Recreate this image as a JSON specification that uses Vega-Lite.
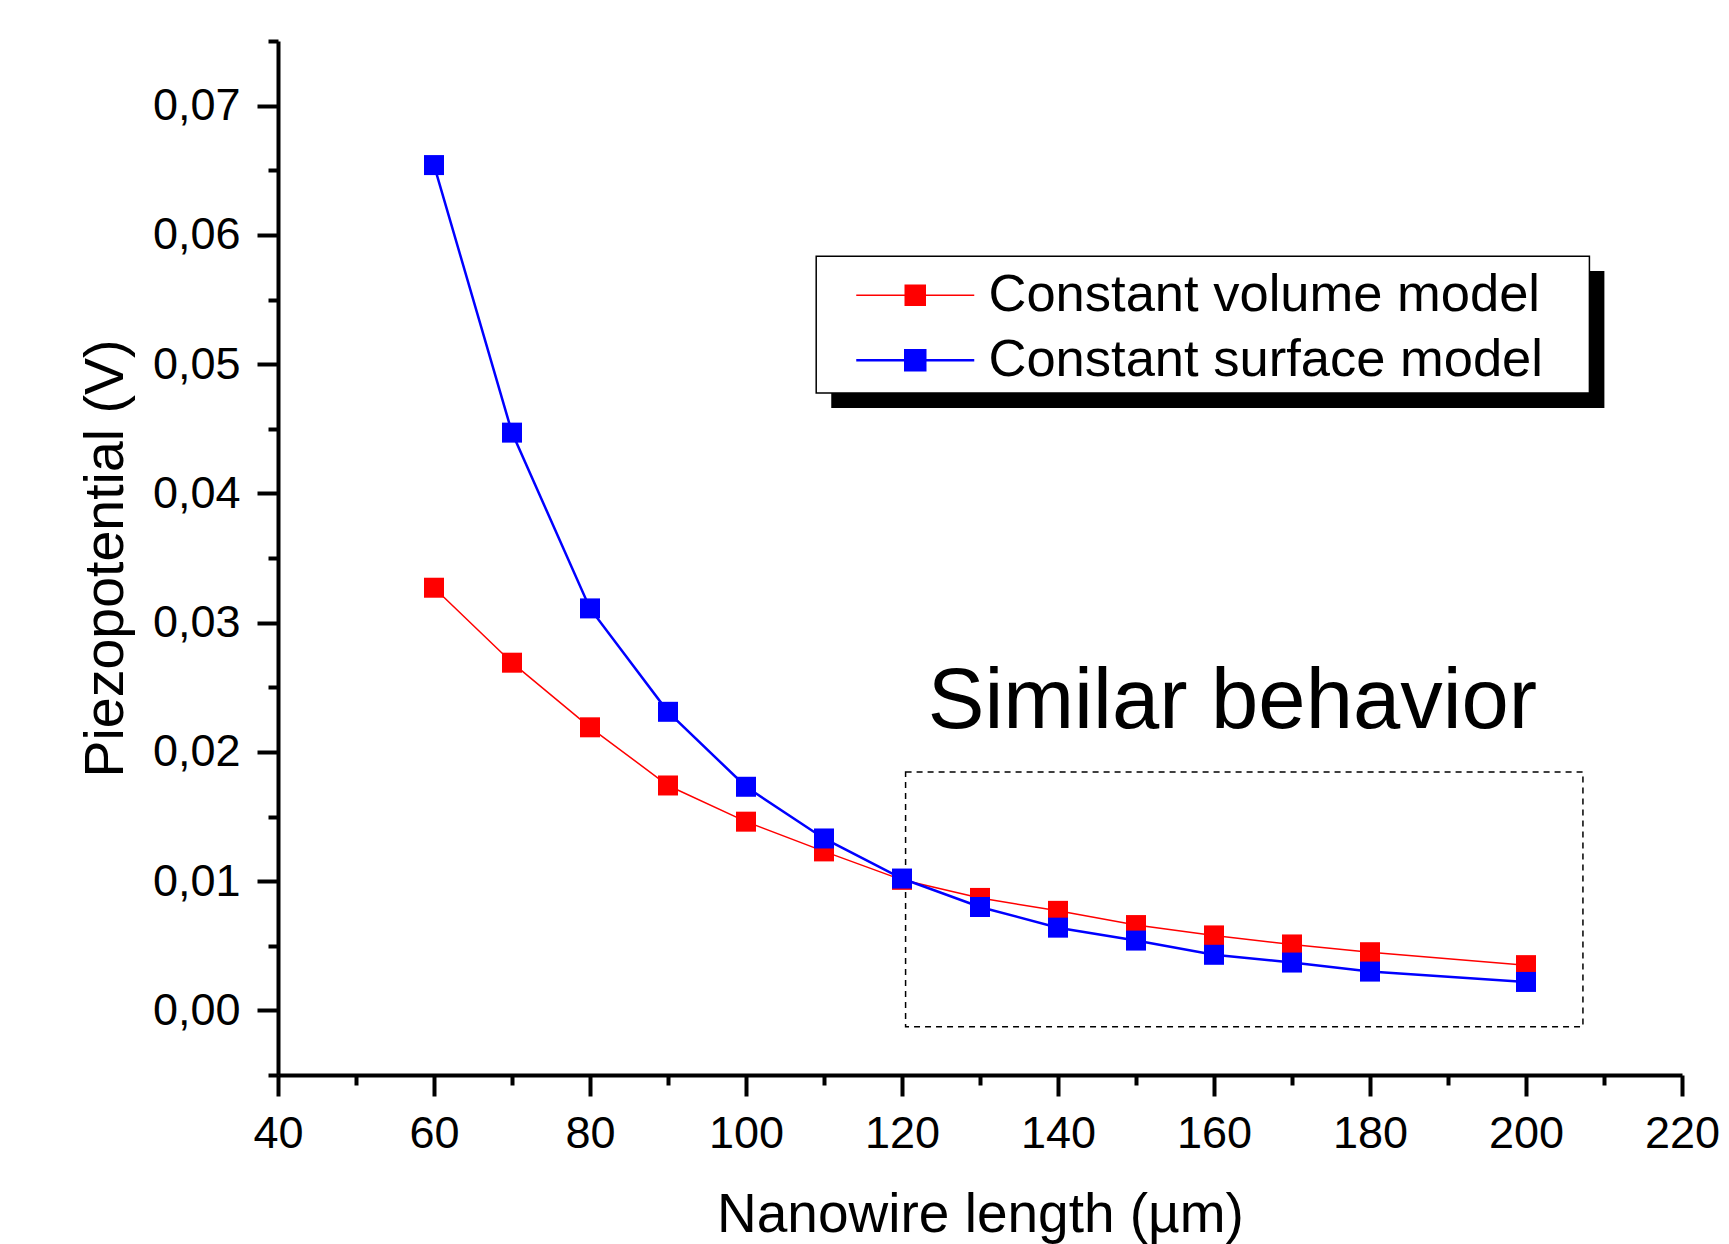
{
  "$schema": "https://vega.github.io/schema/vega-lite/v6.json",
  "width": 1404,
  "height": 1034,
  "autosize": {"type": "none"},
  "padding": {"left": 278, "top": 41, "right": 47, "bottom": 169},
  "background": "white",
  "config": {"view": {"stroke": null}, "font": "Liberation Sans"},
  "data": {
    "values": [
      {"length": 60, "potential": 0.0327, "series": "Constant volume model"},
      {"length": 70, "potential": 0.0269, "series": "Constant volume model"},
      {"length": 80, "potential": 0.0219, "series": "Constant volume model"},
      {"length": 90, "potential": 0.0174, "series": "Constant volume model"},
      {"length": 100, "potential": 0.0146, "series": "Constant volume model"},
      {"length": 110, "potential": 0.0123, "series": "Constant volume model"},
      {"length": 120, "potential": 0.0101, "series": "Constant volume model"},
      {"length": 130, "potential": 0.0087, "series": "Constant volume model"},
      {"length": 140, "potential": 0.0077, "series": "Constant volume model"},
      {"length": 150, "potential": 0.0066, "series": "Constant volume model"},
      {"length": 160, "potential": 0.0058, "series": "Constant volume model"},
      {"length": 170, "potential": 0.0051, "series": "Constant volume model"},
      {"length": 180, "potential": 0.0045, "series": "Constant volume model"},
      {"length": 200, "potential": 0.0035, "series": "Constant volume model"},
      {"length": 60, "potential": 0.0654, "series": "Constant surface model"},
      {"length": 70, "potential": 0.0447, "series": "Constant surface model"},
      {"length": 80, "potential": 0.0311, "series": "Constant surface model"},
      {"length": 90, "potential": 0.0231, "series": "Constant surface model"},
      {"length": 100, "potential": 0.0173, "series": "Constant surface model"},
      {"length": 110, "potential": 0.0133, "series": "Constant surface model"},
      {"length": 120, "potential": 0.0102, "series": "Constant surface model"},
      {"length": 130, "potential": 0.0080, "series": "Constant surface model"},
      {"length": 140, "potential": 0.0064, "series": "Constant surface model"},
      {"length": 150, "potential": 0.0054, "series": "Constant surface model"},
      {"length": 160, "potential": 0.0043, "series": "Constant surface model"},
      {"length": 170, "potential": 0.0037, "series": "Constant surface model"},
      {"length": 180, "potential": 0.0030, "series": "Constant surface model"},
      {"length": 200, "potential": 0.0022, "series": "Constant surface model"}
    ]
  },
  "resolve": {"axis": {"x": "independent", "y": "independent"}},
  "layer": [
    {
      "data": {"values": [{"part": "shadow"}]},
      "mark": {"type": "rect", "fill": "black"},
      "encoding": {
        "x": {"datum": 110.93, "type": "quantitative", "axis": null, "scale": {"domain": [40, 220], "nice": false, "zero": false}},
        "x2": {"datum": 210.05},
        "y": {"datum": 0.0572, "type": "quantitative", "axis": null, "scale": {"domain": [-0.005, 0.075], "nice": false, "zero": false}},
        "y2": {"datum": 0.0466}
      }
    },
    {
      "data": {"values": [{"part": "box"}]},
      "mark": {"type": "rect", "fill": "white", "stroke": "black", "strokeWidth": 1.5},
      "encoding": {
        "x": {"datum": 109.0, "type": "quantitative", "axis": null},
        "x2": {"datum": 208.13},
        "y": {"datum": 0.05835, "type": "quantitative", "axis": null},
        "y2": {"datum": 0.04776}
      }
    },
    {
      "data": {"values": [{"part": "region"}]},
      "mark": {"type": "rect", "fill": null, "fillOpacity": 0, "stroke": "black", "strokeWidth": 1.5, "strokeDash": [6, 5]},
      "encoding": {
        "x": {"datum": 120.46, "type": "quantitative", "axis": null},
        "x2": {"datum": 207.3},
        "y": {"datum": 0.01845, "type": "quantitative", "axis": null},
        "y2": {"datum": -0.00126}
      }
    },
    {
      "data": {"values": [{"label": "Similar behavior"}]},
      "mark": {"type": "text", "fontSize": 85, "font": "Liberation Sans", "align": "left", "baseline": "alphabetic", "color": "black"},
      "encoding": {
        "x": {"datum": 123.3, "type": "quantitative", "axis": null},
        "y": {"datum": 0.02184, "type": "quantitative", "axis": null},
        "text": {"field": "label"}
      }
    },
    {
      "mark": {"type": "line"},
      "encoding": {
        "x": {
          "field": "length", "type": "quantitative",
          "axis": {
            "orient": "bottom", "values": [40, 60, 80, 100, 120, 140, 160, 180, 200, 220],
            "format": "d", "grid": false, "labelFlush": false, "labelOverlap": false, "labelBound": false,
            "tickSize": 21, "tickWidth": 4, "tickColor": "black", "domainColor": "black", "domainWidth": 4,
            "labelFontSize": 45, "labelFont": "Liberation Sans", "labelColor": "black", "labelPadding": 15,
            "title": "Nanowire length (µm)", "titleFontSize": 55, "titleFont": "Liberation Sans", "titleFontWeight": "normal", "titleColor": "black", "titlePadding": 32
          }
        },
        "y": {
          "field": "potential", "type": "quantitative",
          "axis": {
            "orient": "left", "values": [0, 0.01, 0.02, 0.03, 0.04, 0.05, 0.06, 0.07],
            "labelExpr": "replace(format(datum.value, '.2f'), '.', ',')",
            "grid": false, "labelFlush": false, "labelOverlap": false, "labelBound": false,
            "tickSize": 21, "tickWidth": 4, "tickColor": "black", "domainColor": "black", "domainWidth": 4,
            "labelFontSize": 45, "labelFont": "Liberation Sans", "labelColor": "black", "labelPadding": 17,
            "title": "Piezopotential (V)", "titleFontSize": 55.5, "titleFont": "Liberation Sans", "titleFontWeight": "normal", "titleColor": "black", "titlePadding": 18
          }
        },
        "color": {
          "field": "series", "type": "nominal",
          "scale": {"domain": ["Constant volume model", "Constant surface model"], "range": ["#ff0000", "#0000ff"]}
        },
        "strokeWidth": {
          "field": "series", "type": "nominal",
          "scale": {"domain": ["Constant volume model", "Constant surface model"], "range": [1.5, 2.5]},
          "legend": null
        }
      }
    },
    {
      "mark": {"type": "point", "shape": "square", "filled": true, "size": 400, "opacity": 1},
      "encoding": {
        "x": {
          "field": "length", "type": "quantitative",
          "axis": {
            "orient": "bottom", "values": [50, 70, 90, 110, 130, 150, 170, 190, 210],
            "labels": false, "domain": false, "grid": false, "title": null,
            "tickSize": 10, "tickWidth": 4, "tickColor": "black"
          }
        },
        "y": {
          "field": "potential", "type": "quantitative",
          "axis": {
            "orient": "left", "values": [-0.005, 0.005, 0.015, 0.025, 0.035, 0.045, 0.055, 0.065, 0.075],
            "labels": false, "domain": false, "grid": false, "title": null,
            "tickSize": 10, "tickWidth": 4, "tickColor": "black"
          }
        },
        "color": {
          "field": "series", "type": "nominal",
          "legend": {
            "orient": "none", "legendX": 572, "legendY": 228, "title": null, "padding": 0,
            "symbolType": "M-1,0H4.9M1.45,-0.5H2.45V0.5H1.45Z",
            "symbolSize": 1600, "symbolStrokeWidth": 1.8,
            "labelFontSize": 52.5, "labelFont": "Liberation Sans", "labelColor": "black",
            "labelOffset": 86, "rowPadding": 12, "labelLimit": 0,
            "encode": {
              "symbols": {
                "update": {
                  "fill": {"scale": "color", "field": "value"},
                  "stroke": {"scale": "color", "field": "value"},
                  "opacity": {"value": 1}
                }
              }
            }
          }
        }
      }
    }
  ]
}
